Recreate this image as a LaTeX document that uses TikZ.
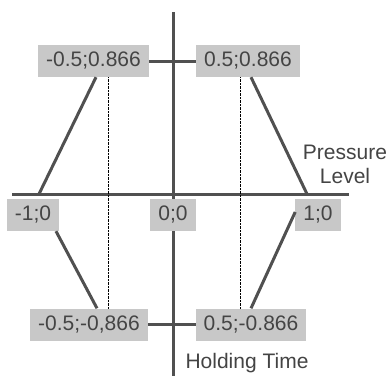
\documentclass[tikz,border=0pt]{standalone}
\usepackage{fontspec}
\setmainfont{Liberation Sans}
\usepackage{tikz}
\usetikzlibrary{calc}
\definecolor{boxgray}{HTML}{C8C8C8}
\definecolor{linegray}{HTML}{505050}
\definecolor{txtgray}{HTML}{444444}
\tikzset{
  box/.style={fill=boxgray,text=txtgray,inner xsep=8pt,inner ysep=0pt,minimum height=32pt,font=\fontsize{21}{24}\selectfont},
  axis/.style={draw=linegray,line width=3pt},
  link/.style={draw=linegray,line width=3pt},
  guide/.style={draw=black,thin,densely dotted},
  lbl/.style={text=txtgray,font=\fontsize{21}{24}\selectfont}
}
\begin{document}
\begin{tikzpicture}[x=1pt,y=-1pt]
      \useasboundingbox (0,0) rectangle (387,376);
      % Coordinates
      \coordinate (xl) at (12,194);
      \coordinate (xr) at (349,194);
      \coordinate (yt) at (173,12);
      \coordinate (yb) at (173,376);
      \coordinate (vL) at (39,194);
      \coordinate (vR) at (307,194);
      % Axes
      \draw[axis] (xl)--(xr);
      \draw[axis] (yt)--(yb);
      % Boxes
      \node[box,minimum width=111pt] (nTL) at (93.5,61) {-0.5;0.866};
      \node[box,minimum width=104pt] (nTR) at (248,61) {0.5;0.866};
      \node[box,minimum width=50pt] (nL) at (33,215) {-1;0};
      \node[box,minimum width=42pt] (nO) at (173,215) {0;0};
      \node[box,minimum width=42pt] (nR) at (318,215) {1;0};
      \node[box,minimum width=118pt] (nBL) at (89,324.5) {-0.5;-0,866};
      \node[box,minimum width=110pt] (nBR) at (251,324.5) {0.5;-0.866};
      % Dotted guides
      \draw[guide] (nTL.south -| 108,0)--(nBL.north -| 108,0);
      \draw[guide] (nTR.south -| 240,0)--(nBR.north -| 240,0);
      % Links between boxes
      \draw[link] (nTL.east)--(nTR.west);
      \draw[link] (nBL.east)--(nBR.west);
      \draw[link] (nTL.south -| 96,0)--(vL);
      \draw[link] (nTR.south -| 251,0)--(vR);
      \draw[link] (nL.south -| 56,0)--(nBL.north -| 97,0);
      \draw[link] ($(nR.west)+(0,-3)$)--(nBR.north -| 251,0);
      % Axis labels
      \node[lbl,align=center] (lblP) at (345,164) {Pressure\\Level};
      \node[lbl,anchor=west] (lblH) at (182,363) {Holding Time};
\end{tikzpicture}
\end{document}
